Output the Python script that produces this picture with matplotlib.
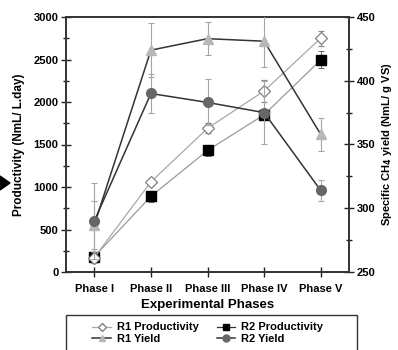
import matplotlib
matplotlib.use("Agg")
import matplotlib.pyplot as plt
from matplotlib.lines import Line2D
from matplotlib.patches import Rectangle, Polygon
from matplotlib.ticker import MultipleLocator

plt.rcParams['font.family'] = ['Liberation Sans', 'DejaVu Sans']

# data
phases = ['Phase I', 'Phase II', 'Phase III', 'Phase IV', 'Phase V']
r1_prod = [170, 1060, 1690, 2130, 2750]
r1_prod_err = [60, 40, 60, 130, 90]
r2_prod = [180, 890, 1430, 1850, 2495]
r2_prod_err = [40, 65, 70, 60, 100]
r1_yield = [287, 424, 433, 431, 358]
r1_yield_err = [19, 21, 13, 20, 13]
r2_yield = [290, 390, 383, 375, 314]
r2_yield_err = [30, 15, 18, 25, 8]

x = list(range(1, len(phases) + 1))

fig = plt.figure(figsize=(3.98, 3.50), dpi=100)
W, H = 398, 350
ax = fig.add_axes([66 / W, 1 - 272 / H, (349 - 66) / W, (272 - 17) / H])
ax2 = ax.twinx()

# productivity (left axis)
ax.errorbar(x, r2_prod, yerr=r2_prod_err, color='#9a9a9a', lw=0.9,
            marker='s', ms=6.5, mfc='black', mec='black',
            ecolor='#666666', elinewidth=0.7, capsize=2.5, capthick=0.7, zorder=3)
ax.errorbar(x, r1_prod, yerr=r1_prod_err, color='#a8a8a8', lw=0.9,
            marker='D', ms=6.0, mfc='white', mec='#808080', mew=0.9,
            ecolor='#888888', elinewidth=0.7, capsize=2.5, capthick=0.7, zorder=4)

# yield (right axis)
ax2.errorbar(x, r1_yield, yerr=r1_yield_err, color='#333333', lw=1.1,
             marker='^', ms=7, mfc='#b8b8b8', mec='#b8b8b8',
             ecolor='#a5a5a5', elinewidth=0.8, capsize=2.5, capthick=0.8, zorder=3)
ax2.errorbar(x, r2_yield, yerr=r2_yield_err, color='#333333', lw=1.1,
             marker='o', ms=7, mfc='#666666', mec='#666666',
             ecolor='#a5a5a5', elinewidth=0.8, capsize=2.5, capthick=0.8, zorder=3)

ax.set_xlim(0.5, 5.5)
ax.set_ylim(0, 3000)
ax2.set_ylim(250, 450)
ax.set_xticks(x)
ax.set_xticklabels(phases)
ax.yaxis.set_major_locator(MultipleLocator(500))
ax.yaxis.set_minor_locator(MultipleLocator(250))
ax2.yaxis.set_major_locator(MultipleLocator(50))
ax2.yaxis.set_minor_locator(MultipleLocator(25))

for a in (ax, ax2):
    a.tick_params(which='major', direction='inout', length=7, width=1.0,
                  labelsize=8, color='#222222')
    a.tick_params(which='minor', direction='inout', length=5, width=1.0, color='#222222')
    for s in a.spines.values():
        s.set_linewidth(1.2)
        s.set_color('#333333')
    for lbl in a.get_xticklabels() + a.get_yticklabels():
        lbl.set_fontweight('bold')
ax.tick_params(axis='x', pad=5)
ax.tick_params(axis='y', pad=2)
ax2.tick_params(axis='y', pad=2)

ax.set_xlabel('Experimental Phases', fontsize=9.5, fontweight='bold', labelpad=4)
ax.set_ylabel('Productivity (NmL/ L.day)', fontsize=8.5, fontweight='bold', labelpad=6)
ax2.set_ylabel('Specific CH$_\\mathbf{4}$ yield (NmL/ g VS)', fontsize=8,
               fontweight='bold', rotation=90, labelpad=3)

# legend (frame cut off at bottom like the reference)
handles = [
    Line2D([], [], color='#a8a8a8', lw=0.9, marker='D', ms=4.5, mfc='white', mec='#808080'),
    Line2D([], [], color='#333333', lw=1.1, marker='^', ms=5, mfc='#b8b8b8', mec='#b8b8b8'),
    Line2D([], [], color='#333333', lw=0.9, marker='s', ms=4.5, mfc='black', mec='black'),
    Line2D([], [], color='#333333', lw=1.1, marker='o', ms=5, mfc='#666666', mec='#666666'),
]
labels = ['R1 Productivity', 'R1 Yield', 'R2 Productivity', 'R2 Yield']
leg = fig.legend(handles, labels, ncol=2, loc='upper left',
                 bbox_to_anchor=(88 / W, 1 - 318 / H), frameon=False,
                 prop={'size': 8, 'weight': 'bold'}, handlelength=1.7,
                 handletextpad=0.5, columnspacing=1.6, labelspacing=0.1,
                 borderaxespad=0)
fig.add_artist(Rectangle((66 / W, -0.05), (357 - 66) / W, 0.05 + (350 - 315) / H,
                         transform=fig.transFigure, fill=False, lw=1.0,
                         edgecolor='#333333', clip_on=False))

# small black pointer at the left edge
fig.add_artist(Polygon([(0, 1 - 176 / H), (10 / W, 1 - 183 / H), (0, 1 - 190 / H)],
                       closed=True, transform=fig.transFigure, color='black'))

fig.savefig('out.png', dpi=100)
